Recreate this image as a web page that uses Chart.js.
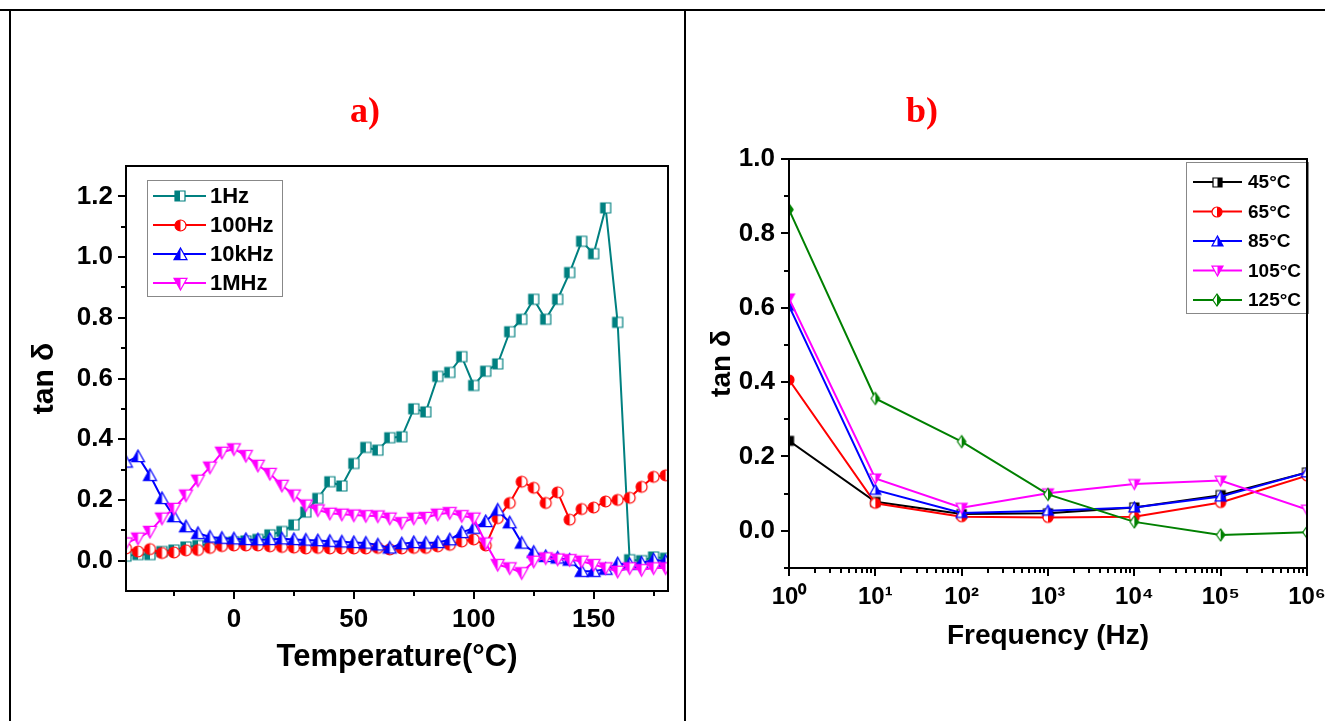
<!DOCTYPE html>
<html><head><meta charset="utf-8">
<script src="https://cdn.jsdelivr.net/npm/chart.js@4.4.1/dist/chart.umd.min.js"></script>
<style>
html,body{margin:0;padding:0;background:#fff;width:1325px;height:721px;overflow:hidden;}
#cA{position:absolute;left:0;top:0;}
#cB{position:absolute;left:519px;top:0;}
.ln{position:absolute;background:#000;}
</style></head><body>
<canvas id="cA" width="730" height="721"></canvas>
<canvas id="cB" width="806" height="721"></canvas>
<div class="ln" style="left:0;top:9px;width:1325px;height:2px"></div>
<div class="ln" style="left:9px;top:9px;width:2px;height:712px"></div>
<div class="ln" style="left:684px;top:9px;width:2px;height:712px"></div>
<script>
// ---------- Panel a data ----------
const temperature = [-45,-40,-35,-30,-25,-20,-15,-10,-5,0,5,10,15,20,25,30,35,40,45,50,55,60,65,70,75,80,85,90,95,100,105,110,115,120,125,130,135,140,145,150,155,160,165,170,175,180];
const tan1Hz   = [0.015,0.02,0.02,0.03,0.035,0.045,0.05,0.055,0.06,0.062,0.065,0.07,0.085,0.096,0.118,0.16,0.205,0.26,0.246,0.32,0.373,0.364,0.405,0.408,0.50,0.49,0.607,0.62,0.672,0.577,0.624,0.648,0.754,0.795,0.861,0.795,0.861,0.949,1.052,1.011,1.162,0.785,0.003,0.0,0.012,0.008];
const tan100Hz = [0.04,0.03,0.038,0.025,0.027,0.034,0.035,0.042,0.048,0.05,0.05,0.05,0.047,0.045,0.043,0.04,0.042,0.04,0.04,0.04,0.04,0.042,0.037,0.04,0.042,0.042,0.047,0.052,0.063,0.07,0.05,0.14,0.19,0.26,0.24,0.19,0.225,0.135,0.17,0.175,0.195,0.2,0.207,0.243,0.276,0.281];
const tan10kHz = [0.325,0.343,0.281,0.205,0.145,0.112,0.09,0.078,0.074,0.072,0.07,0.069,0.07,0.072,0.07,0.068,0.066,0.064,0.062,0.06,0.058,0.052,0.042,0.056,0.06,0.058,0.06,0.069,0.093,0.107,0.129,0.167,0.125,0.058,0.028,0.014,0.009,0.002,-0.035,-0.035,-0.028,-0.01,-0.012,-0.008,0.003,-0.002];
const tan1MHz  = [0.058,0.074,0.096,0.14,0.172,0.216,0.265,0.308,0.357,0.368,0.346,0.314,0.287,0.248,0.216,0.183,0.167,0.156,0.153,0.15,0.148,0.147,0.14,0.125,0.14,0.142,0.153,0.158,0.148,0.14,0.058,-0.013,-0.024,-0.04,-0.002,0.009,0.005,0.003,-0.002,-0.013,-0.024,-0.035,-0.024,-0.03,-0.024,-0.024];
const seriesNamesA = ['1Hz','100Hz','10kHz','1MHz'];
const xMajorA = [0,50,100,150];
const xLabelsA = ['0','50','100','150'];
const xMinorA = [-25,25,75,125,175];
const yMajorA = [0,0.2,0.4,0.6,0.8,1.0,1.2];
const yLabelsA = ['0.0','0.2','0.4','0.6','0.8','1.0','1.2'];
const yMinorA = [0.1,0.3,0.5,0.7,0.9,1.1];

// ---------- Panel b data ----------
const frequency = [1,10,100,1000,10000,100000,1000000];
const tan45C  = [0.242,0.078,0.045,0.047,0.063,0.096,0.157];
const tan65C  = [0.406,0.074,0.038,0.036,0.038,0.076,0.148];
const tan85C  = [0.605,0.11,0.048,0.054,0.063,0.092,0.157];
const tan105C = [0.625,0.141,0.062,0.101,0.126,0.135,0.057];
const tan125C = [0.864,0.356,0.24,0.098,0.024,-0.011,-0.004];
const seriesNamesB = ['45°C','65°C','85°C','105°C','125°C'];
const xMajorB = [1,10,100,1000,10000,100000,1000000];
const xLabelsB = ['10⁰','10¹','10²','10³','10⁴','10⁵','10⁶'];
const yMajorB = [0,0.2,0.4,0.6,0.8,1.0];
const yLabelsB = ['0.0','0.2','0.4','0.6','0.8','1.0'];
const yMinorB = [-0.1,0.1,0.3,0.5,0.7,0.9];

// ---------- helpers ----------
const FONT = "'Liberation Sans', Arial, Helvetica, sans-serif";
Chart.defaults.font.family = FONT;
Chart.defaults.color = '#000';

function marker(shape, color, size, half) {
  const pad = 2;
  const W = Math.ceil(size + pad * 2);
  const c = document.createElement('canvas');
  c.width = W; c.height = W;
  const g = c.getContext('2d');
  const m = W / 2, r = size / 2;
  const path = () => {
    g.beginPath();
    if (shape === 'square') g.rect(m - r, m - r, size, size);
    else if (shape === 'circle') g.arc(m, m, r, 0, Math.PI * 2);
    else if (shape === 'up') { g.moveTo(m, m - r); g.lineTo(m + r, m + r * 0.8); g.lineTo(m - r, m + r * 0.8); g.closePath(); }
    else if (shape === 'down') { g.moveTo(m, m + r); g.lineTo(m + r, m - r * 0.8); g.lineTo(m - r, m - r * 0.8); g.closePath(); }
    else if (shape === 'diamond') { g.moveTo(m, m - r); g.lineTo(m + r * 0.7, m); g.lineTo(m, m + r); g.lineTo(m - r * 0.7, m); g.closePath(); }
  };
  path(); g.fillStyle = '#fff'; g.fill();
  g.save(); g.beginPath();
  if (half === 'left') g.rect(0, 0, m, W); else g.rect(m, 0, W - m, W);
  g.clip(); path(); g.fillStyle = color; g.fill(); g.restore();
  path(); g.strokeStyle = color; g.lineWidth = 1.2; g.stroke();
  return c;
}

function near(list, v) {
  return list.findIndex(a => Math.abs(a - v) < 1e-9 * Math.max(1, Math.abs(a)));
}

const tickMarks = {
  id: 'tickMarks',
  afterDraw(chart, args, o) {
    const ctx = chart.ctx, ca = chart.chartArea;
    ctx.save(); ctx.strokeStyle = '#000'; ctx.lineWidth = 2;
    ['x', 'y'].forEach(id => {
      const s = chart.scales[id], cfg = o[id];
      s.ticks.forEach(t => {
        const len = near(cfg.major, t.value) >= 0 ? cfg.majorLen : cfg.minorLen;
        const p = Math.round(s.getPixelForValue(t.value));
        ctx.beginPath();
        if (id === 'x') { ctx.moveTo(p, ca.bottom); ctx.lineTo(p, ca.bottom + len); }
        else { ctx.moveTo(ca.left - len, p); ctx.lineTo(ca.left, p); }
        ctx.stroke();
      });
    });
    ctx.strokeRect(ca.left, ca.top, ca.right - ca.left, ca.bottom - ca.top);
    ctx.restore();
  }
};

const boxLegend = {
  id: 'boxLegend',
  afterDatasetsDraw(chart, args, o) {
    const ca = chart.chartArea, ctx = chart.ctx;
    const left = o.anchor === 'right' ? ca.right - o.dx - o.w : ca.left + o.dx;
    const top = ca.top + o.dy;
    ctx.save();
    ctx.fillStyle = '#fff'; ctx.fillRect(left, top, o.w, o.h);
    ctx.strokeStyle = '#888'; ctx.lineWidth = 1; ctx.strokeRect(left + 0.5, top + 0.5, o.w, o.h);
    chart.data.datasets.forEach((ds, i) => {
      const y = top + o.row0 + i * o.rowGap;
      ctx.strokeStyle = ds.borderColor; ctx.lineWidth = 2;
      ctx.beginPath(); ctx.moveTo(left + o.lx0, y); ctx.lineTo(left + o.lx1, y); ctx.stroke();
      const img = ds.pointStyle;
      ctx.drawImage(img, Math.round(left + o.mx - img.width / 2), Math.round(y - img.height / 2));
      ctx.fillStyle = '#000'; ctx.font = o.font; ctx.textBaseline = 'middle'; ctx.textAlign = 'left';
      ctx.fillText(ds.label, left + o.tx, y + 1);
    });
    ctx.restore();
  }
};

// ---------- Chart a ----------
const stylesA = [
  {color: '#008080', shape: 'square', size: 10},
  {color: '#ff0000', shape: 'circle', size: 11},
  {color: '#0000ff', shape: 'up', size: 13},
  {color: '#ff00ff', shape: 'down', size: 13}
];
const valuesA = [tan1Hz, tan100Hz, tan10kHz, tan1MHz];

new Chart(document.getElementById('cA'), {
  type: 'line',
  data: {
    datasets: valuesA.map((vals, i) => ({
      label: seriesNamesA[i],
      data: temperature.map((t, j) => ({x: t, y: vals[j]})),
      borderColor: stylesA[i].color,
      backgroundColor: stylesA[i].color,
      borderWidth: 2,
      pointStyle: marker(stylesA[i].shape, stylesA[i].color, stylesA[i].size, 'left'),
      pointRadius: 6,
      tension: 0,
      order: 4 - i
    }))
  },
  options: {
    responsive: false, animation: false, events: [],
    layout: {padding: 0, autoPadding: false},
    plugins: {
      legend: {display: false}, tooltip: {enabled: false},
      title: {display: true, text: 'a)', color: '#ff0000',
        font: {family: "'Liberation Serif', 'Times New Roman', serif", size: 36, weight: 'bold', lineHeight: 1.2},
        padding: {top: 91, bottom: 31.8}},
      tickMarks: {
        x: {major: xMajorA, majorLen: 8, minorLen: 5},
        y: {major: yMajorA, majorLen: 8, minorLen: 5}
      },
      boxLegend: {anchor: 'left', dx: 21, dy: 14, w: 135, h: 116, row0: 16, rowGap: 29,
        lx0: 6, lx1: 59, mx: 33, tx: 63, font: "bold 22px " + FONT}
    },
    scales: {
      x: {
        type: 'linear', min: -45, max: 181,
        afterBuildTicks: s => { s.ticks = [...xMajorA, ...xMinorA].sort((a, b) => a - b).map(v => ({value: v})); },
        afterFit: s => { s.height = 130; s.paddingLeft = 0; s.paddingRight = 0; },
        grid: {display: false, drawTicks: true, tickLength: 8},
        border: {display: false},
        ticks: {autoSkip: false, maxRotation: 0, padding: 5, font: {size: 26, weight: 'bold'},
          callback: v => { const k = near(xMajorA, v); return k >= 0 ? xLabelsA[k] : ''; }},
        title: {display: true, text: 'Temperature(°C)', font: {size: 31, weight: 'bold', lineHeight: 1.2}, padding: {top: 0, bottom: 45}}
      },
      y: {
        type: 'linear', min: -0.1, max: 1.3,
        afterBuildTicks: s => { s.ticks = [...yMajorA, ...yMinorA].sort((a, b) => a - b).map(v => ({value: v})); },
        afterFit: s => { s.width = 126; },
        grid: {display: false, drawTicks: true, tickLength: 8},
        border: {display: false},
        ticks: {autoSkip: false, padding: 5, font: {size: 26, weight: 'bold'},
          callback: v => { const k = near(yMajorA, v); return k >= 0 ? yLabelsA[k] : ''; }},
        title: {display: true, text: 'tan δ', font: {size: 30, weight: 'bold', lineHeight: 1.2}, padding: {top: 27, bottom: 0}}
      },
      y2: {
        position: 'right', display: true,
        afterFit: s => { s.width = 62; },
        grid: {display: false, drawTicks: false}, border: {display: false}, ticks: {display: false}
      }
    }
  },
  plugins: [tickMarks, boxLegend]
});

// ---------- Chart b ----------
const stylesB = [
  {color: '#000000', shape: 'square', size: 9},
  {color: '#ff0000', shape: 'circle', size: 10},
  {color: '#0000ff', shape: 'up', size: 11},
  {color: '#ff00ff', shape: 'down', size: 11},
  {color: '#008000', shape: 'diamond', size: 12}
];
const valuesB = [tan45C, tan65C, tan85C, tan105C, tan125C];
const logTicksB = [];
xMajorB.forEach((d, k) => {
  logTicksB.push(d);
  if (k < xMajorB.length - 1) for (let m = 2; m <= 9; m++) logTicksB.push(m * d);
});

new Chart(document.getElementById('cB'), {
  type: 'line',
  data: {
    datasets: valuesB.map((vals, i) => ({
      label: seriesNamesB[i],
      data: frequency.map((f, j) => ({x: f, y: vals[j]})),
      borderColor: stylesB[i].color,
      backgroundColor: stylesB[i].color,
      borderWidth: 2,
      pointStyle: marker(stylesB[i].shape, stylesB[i].color, stylesB[i].size, 'right'),
      pointRadius: 5,
      tension: 0,
      order: 5 - i
    }))
  },
  options: {
    responsive: false, animation: false, events: [],
    layout: {padding: 0, autoPadding: false},
    plugins: {
      legend: {display: false}, tooltip: {enabled: false},
      title: {display: true, text: 'b)', color: '#ff0000',
        font: {family: "'Liberation Serif', 'Times New Roman', serif", size: 36, weight: 'bold', lineHeight: 1.2},
        padding: {top: 91, bottom: 24.8}},
      tickMarks: {
        x: {major: xMajorB, majorLen: 8, minorLen: 5},
        y: {major: yMajorB, majorLen: 8, minorLen: 5}
      },
      boxLegend: {anchor: 'right', dx: -1, dy: 3, w: 122, h: 151, row0: 20, rowGap: 29.5,
        lx0: 7, lx1: 56, mx: 31, tx: 62, font: "bold 19px " + FONT}
    },
    scales: {
      x: {
        type: 'logarithmic', min: 1, max: 1000000,
        afterBuildTicks: s => { s.ticks = logTicksB.map(v => ({value: v})); },
        afterFit: s => { s.height = 153; s.paddingLeft = 0; s.paddingRight = 0; },
        grid: {display: false, drawTicks: true, tickLength: 8},
        border: {display: false},
        ticks: {autoSkip: false, maxRotation: 0, padding: 7, font: {size: 24, weight: 'bold'},
          callback: v => { const k = near(xMajorB, v); return k >= 0 ? xLabelsB[k] : ''; }},
        title: {display: true, text: 'Frequency (Hz)', font: {size: 28, weight: 'bold', lineHeight: 1.2}, padding: {top: 0, bottom: 68}}
      },
      y: {
        type: 'linear', min: -0.1, max: 1.0,
        afterBuildTicks: s => { s.ticks = [...yMajorB, ...yMinorB].sort((a, b) => a - b).map(v => ({value: v})); },
        afterFit: s => { s.width = 270; },
        grid: {display: false, drawTicks: true, tickLength: 8},
        border: {display: false},
        ticks: {autoSkip: false, padding: 6, font: {size: 26, weight: 'bold'},
          callback: v => { const k = near(yMajorB, v); return k >= 0 ? yLabelsB[k] : ''; }},
        title: {display: true, text: 'tan δ', font: {size: 28, weight: 'bold', lineHeight: 1.2}, padding: {top: 186, bottom: 0}}
      },
      y2: {
        position: 'right', display: true,
        afterFit: s => { s.width = 18; },
        grid: {display: false, drawTicks: false}, border: {display: false}, ticks: {display: false}
      }
    }
  },
  plugins: [tickMarks, boxLegend]
});
</script></body></html>
